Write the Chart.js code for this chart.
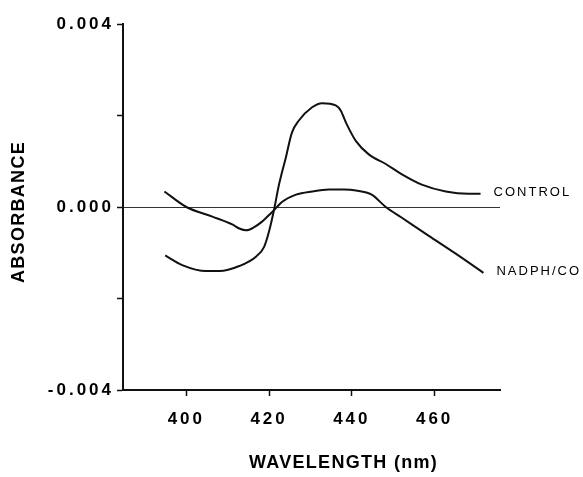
<!DOCTYPE html>
<html><head><meta charset="utf-8">
<script src="https://cdn.jsdelivr.net/npm/chart.js@4/dist/chart.umd.min.js"></script>
<style>html,body{margin:0;padding:0;background:#fff}#wrap{width:583px;height:477px}</style>
</head><body><div id="wrap"><canvas id="c" width="583" height="477"></canvas></div>
<script>
// ---- data ----
const controlWavelength = [394.9, 399.0, 404.8, 408.0, 412.8, 416.9, 418.8, 420.0, 421.2, 422.4, 424.1, 425.5, 427.2, 430.4, 432.8, 436.1, 437.3, 438.6, 441.0, 444.1, 448.2, 452.0, 456.9, 462.7, 468.2, 471.1];
const controlAbsorbance = [-0.00106, -0.00127, -0.00140, -0.00140, -0.00129, -0.00108, -0.00087, -0.00053, -0.00006, 0.00049, 0.00110, 0.00162, 0.00189, 0.00218, 0.00227, 0.00222, 0.00211, 0.00184, 0.00144, 0.00115, 0.00094, 0.00072, 0.00049, 0.00034, 0.00029, 0.00029];
const nadphWavelength = [394.7, 400.0, 406.3, 411.1, 412.8, 414.5, 416.4, 418.3, 420.5, 421.7, 423.1, 426.5, 430.4, 434.5, 438.1, 441.0, 444.8, 448.2, 452.0, 458.6, 465.1, 471.8];
const nadphAbsorbance = [0.00034, 0.0, -0.00021, -0.00038, -0.00047, -0.00051, -0.00044, -0.00032, -0.00013, -0.00002, 0.00011, 0.00027, 0.00034, 0.00038, 0.00038, 0.00036, 0.00027, 0.0, -0.00023, -0.00063, -0.00102, -0.00144];
const seriesLabels = ['CONTROL', 'NADPH/CO'];
const xTicks = [400, 420, 440, 460];
const yTicks = [-0.004, -0.002, 0, 0.002, 0.004];
const yLabelled = [-0.004, 0, 0.004];
const xTitle = 'WAVELENGTH (nm)';
const yTitle = 'ABSORBANCE';
const xRange = [384.7, 475.8];
const yRange = [-0.004, 0.004];

const toPoints = (xs, ys) => xs.map((x, i) => ({x: x, y: ys[i]}));
const FONT = '"Liberation Sans", Arial, Helvetica, sans-serif';

const spacing = {
  id: 'spacing',
  beforeLayout(c) { c.ctx.letterSpacing = '3px'; },
  beforeDraw(c) { c.ctx.letterSpacing = '3px'; }
};

const titleShift = {
  id: 'titleShift',
  afterLayout(chart) {
    [['x', 32, 0], ['y', 0, 5]].forEach(([id, dx, dy]) => {
      const s = chart.scales[id];
      if (!s || s._wrappedTitle) return;
      const orig = s.drawTitle;
      s.drawTitle = function () {
        const ctx = this.ctx;
        ctx.save();
        ctx.translate(dx, dy);
        ctx.letterSpacing = '1.3px';
        orig.call(this);
        ctx.restore();
      };
      s._wrappedTitle = true;
    });
  }
};

const endLabels = {
  id: 'endLabels',
  afterDatasetsDraw(chart) {
    const ctx = chart.ctx;
    ctx.save();
    ctx.letterSpacing = '2px';
    ctx.font = '13px ' + FONT;
    ctx.fillStyle = '#000';
    ctx.textAlign = 'left';
    ctx.textBaseline = 'middle';
    chart.data.datasets.forEach((ds, i) => {
      const meta = chart.getDatasetMeta(i);
      const last = meta.data[meta.data.length - 1];
      ctx.fillText(seriesLabels[i], last.x + 13, last.y - 1);
    });
    ctx.restore();
  }
};

new Chart(document.getElementById('c'), {
  type: 'line',
  data: {
    datasets: [
      {label: seriesLabels[0], data: toPoints(controlWavelength, controlAbsorbance)},
      {label: seriesLabels[1], data: toPoints(nadphWavelength, nadphAbsorbance)}
    ]
  },
  options: {
    responsive: false,
    devicePixelRatio: 1,
    animation: false,
    layout: {padding: {left: 0, right: 83, top: 24, bottom: 0}},
    elements: {
      line: {borderColor: '#111', borderWidth: 2, cubicInterpolationMode: 'monotone', fill: false},
      point: {radius: 0, hoverRadius: 0}
    },
    plugins: {legend: {display: false}, tooltip: {enabled: false}},
    scales: {
      x: {
        type: 'linear',
        min: xRange[0], max: xRange[1],
        afterBuildTicks: s => { s.ticks = xTicks.map(v => ({value: v})); },
        afterFit: s => { s.height = 87; },
        border: {display: true, color: '#111', width: 2},
        grid: {color: 'rgba(0,0,0,0)', drawOnChartArea: false, tickColor: '#111', tickLength: 6, tickWidth: 1.5},
        ticks: {color: '#000', font: {family: FONT, size: 17, weight: 'bold'}, padding: 13, maxRotation: 0,
                callback: v => String(v)},
        title: {display: true, text: xTitle, color: '#000', font: {family: FONT, size: 18, weight: 'bold'},
                padding: {top: 0, bottom: 3}}
      },
      y: {
        type: 'linear',
        min: yRange[0], max: yRange[1],
        afterBuildTicks: s => { s.ticks = yTicks.map(v => ({value: v})); },
        afterFit: s => { s.width = 123; },
        border: {display: true, color: '#111', width: 2},
        grid: {
          color: c => (c.tick && c.tick.value === 0) ? '#333' : 'rgba(0,0,0,0)',
          lineWidth: 1,
          tickColor: '#111', tickLength: 6, tickWidth: 1.5
        },
        ticks: {color: '#000', font: {family: FONT, size: 17, weight: 'bold'}, padding: 3,
                callback: v => yLabelled.some(t => Math.abs(t - v) < 1e-9) ? v.toFixed(3) : ''},
        title: {display: true, text: yTitle, color: '#000', font: {family: FONT, size: 18, weight: 'bold'},
                padding: {top: 8, bottom: 0}}
      }
    }
  },
  plugins: [spacing, titleShift, endLabels]
});
</script>
</body></html>
